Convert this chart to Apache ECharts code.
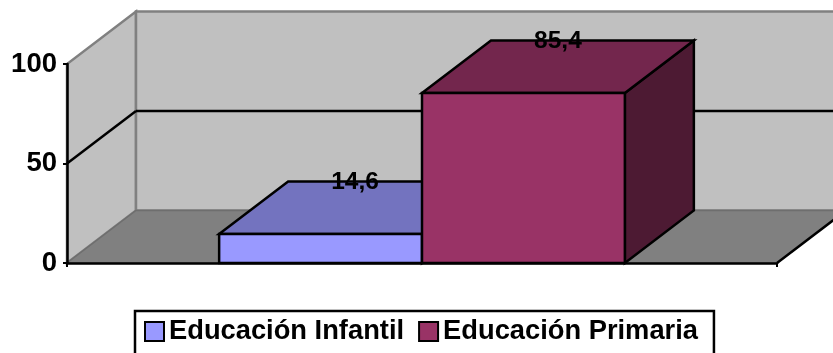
<!DOCTYPE html>
<html>
<head>
<meta charset="utf-8">
<style>html,body{margin:0;padding:0;background:#fff;overflow:hidden}#chart{width:833px;height:353px}</style>
<script src="https://cdn.jsdelivr.net/npm/echarts@6/dist/echarts.min.js"></script>
</head>
<body>
<div id="chart"></div>
<script>
// Alumnado por etapa educativa
const categories = [''];
const seriesNames = ['Educación Infantil', 'Educación Primaria'];
const infantilValues = [14.6];
const primariaValues = [85.4];
const innerGridValues = [50];

const frontColors = ['#9999FF', '#993366'];
const topColors = ['#7373BF', '#73264D'];
const sideColors = ['#4D4D80', '#4D1A33'];

// Oblique projection used for the 3D look
const DEPTH_X = 69;
const DEPTH_Y = -52.5;
const FONT = '"Liberation Sans", Arial, sans-serif';

function poly(points, fill, stroke, lineWidth) {
  return {
    type: 'polygon',
    shape: { points },
    style: { fill, stroke: stroke || 'none', lineWidth: lineWidth || 0, lineJoin: 'miter' }
  };
}
function seg(a, b, stroke, lineWidth) {
  return {
    type: 'line',
    shape: { x1: a[0], y1: a[1], x2: b[0], y2: b[1] },
    style: { stroke, lineWidth }
  };
}
const back = p => [p[0] + DEPTH_X, p[1] + DEPTH_Y];

function renderWalls(params, api) {
  const band = api.size([1, 0])[0];
  const cx = api.coord([0, 0])[0];
  const y0 = api.coord([0, 0])[1];
  const y100 = api.coord([0, 100])[1];
  const l = cx - band / 2, r = cx + band / 2;
  const children = [
    poly([[l, y0], back([l, y0]), back([l, y100]), [l, y100]], '#C0C0C0', '#808080', 2.5),
    poly([back([l, y0]), back([r, y0]), back([r, y100]), back([l, y100])], '#C0C0C0', '#808080', 2.5),
    poly([[l, y0], [r, y0], back([r, y0]), back([l, y0])], '#808080', '#6E6E6E', 1.5)
  ];
  innerGridValues.forEach(v => {
    const y = api.coord([0, v])[1];
    children.push(seg([l, y], back([l, y]), '#000', 2.5));
    children.push(seg(back([l, y]), back([r, y]), '#000', 2.5));
  });
  children.push(seg([r, y0], back([r, y0]), '#000', 2.5));
  return { type: 'group', children };
}

function barRenderer(index) {
  return function (params, api) {
    const value = api.value(1);
    const band = api.size([1, 0])[0];
    const barW = band / 3.5;
    const cx = api.coord([api.value(0), 0])[0];
    const y0 = api.coord([0, 0])[1];
    const yT = api.coord([0, value])[1];
    const l = cx + (index - 1) * barW, r = l + barW;
    const edge = { stroke: '#000', width: 2.5 };
    return {
      type: 'group',
      children: [
        poly([[r, y0], back([r, y0]), back([r, yT]), [r, yT]], sideColors[index], edge.stroke, edge.width),
        poly([[l, yT], [r, yT], back([r, yT]), back([l, yT])], topColors[index], edge.stroke, edge.width),
        poly([[l, y0], [r, y0], [r, yT], [l, yT]], frontColors[index], edge.stroke, edge.width),
        {
          type: 'text',
          z2: 10,
          style: {
            text: String(value).replace('.', ','),
            x: (l + r) / 2 + DEPTH_X / 2,
            y: yT + DEPTH_Y + 1,
            align: 'center',
            verticalAlign: 'middle',
            fill: '#000',
            font: 'bold 24.5px ' + FONT
          }
        }
      ]
    };
  };
}

const chart = echarts.init(document.getElementById('chart'), null, { renderer: 'canvas' });
chart.setOption({
  animation: false,
  backgroundColor: '#fff',
  grid: { left: 67, top: 64, width: 710, height: 199, containLabel: false },
  xAxis: {
    type: 'category',
    data: categories,
    z: 5,
    axisLine: { lineStyle: { color: '#000', width: 2.5 } },
    axisTick: { show: true, length: 4, lineStyle: { color: '#000', width: 2 } },
    axisLabel: { show: false },
    splitLine: { show: false }
  },
  yAxis: {
    type: 'value',
    min: 0, max: 100, interval: 50,
    z: 5,
    axisLine: { show: true, lineStyle: { color: '#000', width: 2.5 } },
    axisTick: { show: true, length: 4, lineStyle: { color: '#000', width: 2 } },
    axisLabel: {
      color: '#000', fontFamily: FONT, fontWeight: 'bold', fontSize: 27.5, margin: 10,
      padding: [3, 0, 0, 0]
    },
    splitLine: { show: false }
  },
  legend: {
    left: 135, top: 311,
    data: seriesNames,
    icon: 'rect',
    itemWidth: 19, itemHeight: 19, itemGap: 14,
    padding: [7, 16, 12, 9],
    backgroundColor: '#fff',
    borderColor: '#000', borderWidth: 2.5,
    textStyle: { color: '#000', fontFamily: FONT, fontWeight: 'bold', fontSize: 27.3 }
  },
  series: [
    {
      name: 'Paredes', type: 'custom', z: 1, clip: false, silent: true,
      data: [[0, 0]], encode: { x: 0, y: 1 }, renderItem: renderWalls
    },
    {
      name: seriesNames[0], type: 'custom', z: 2, clip: false,
      itemStyle: { color: frontColors[0], borderColor: '#000', borderWidth: 2.5 },
      data: infantilValues.map((v, i) => [i, v]), encode: { x: 0, y: 1 }, renderItem: barRenderer(0)
    },
    {
      name: seriesNames[1], type: 'custom', z: 3, clip: false,
      itemStyle: { color: frontColors[1], borderColor: '#000', borderWidth: 2.5 },
      data: primariaValues.map((v, i) => [i, v]), encode: { x: 0, y: 1 }, renderItem: barRenderer(1)
    }
  ]
});
</script>
</body>
</html>
